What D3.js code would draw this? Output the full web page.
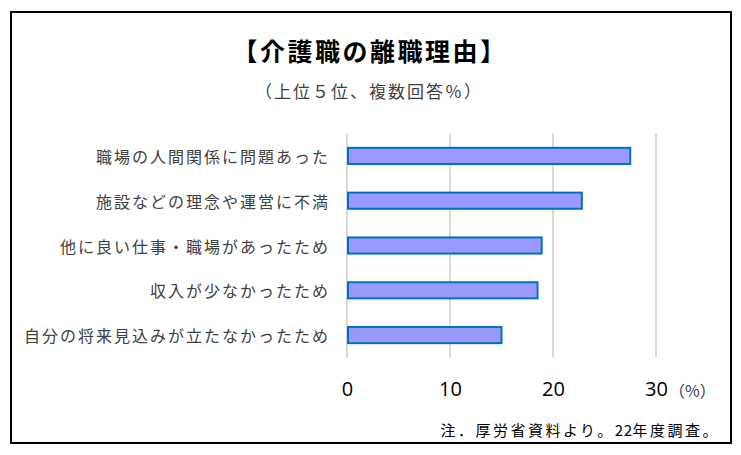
<!DOCTYPE html>
<html><head><meta charset="utf-8">
<script src="https://cdn.jsdelivr.net/npm/d3@7/dist/d3.min.js"></script>
<style>body{margin:0;background:#fff}</style>
</head><body><svg id="c" width="741" height="455"></svg>
<script>
const categories = ["職場の人間関係に問題あった","施設などの理念や運営に不満","他に良い仕事・職場があったため","収入が少なかったため","自分の将来見込みが立たなかったため"];
const values = [27.5, 22.8, 18.9, 18.5, 15.0];
const ticks = [0, 10, 20, 30];
const title = "【介護職の離職理由】";
const subtitle = "（上位５位、複数回答％）";
const noteParts = ["注．厚労省資料より。", "22", "年度調査。"];
const unit = "（%）";

const svg = d3.select("#c");
const jp = "'Noto Sans CJK JP', sans-serif";
svg.append("rect").attr("x",11).attr("y",12).attr("width",720).attr("height",431)
  .attr("fill","#fff").attr("stroke","#000").attr("stroke-width",2);

const x = d3.scaleLinear().domain([0,30]).range([347,656]);
const y = d3.scaleBand().domain(categories).range([133.5,357.5]).paddingInner(0.64).paddingOuter(0.32);

const g = svg.append("g");
g.selectAll("line.grid").data(ticks).join("line")
  .attr("x1",d=>x(d)).attr("x2",d=>x(d)).attr("y1",133.5).attr("y2",357.5)
  .attr("stroke","#d9d9d9").attr("stroke-width",2);

g.selectAll("rect.bar").data(values).join("rect")
  .attr("x",x(0)+1).attr("y",(d,i)=>y(categories[i]))
  .attr("width",d=>x(d)-x(0)-1).attr("height",y.bandwidth())
  .attr("fill","#9999ff").attr("stroke","#0070c0").attr("stroke-width",2);

const ax = d3.axisBottom(x).tickValues(ticks).tickSize(0).tickPadding(0);
const axg = svg.append("g").attr("transform","translate(0,388)").call(ax);
axg.select(".domain").remove();
axg.selectAll("text").attr("font-family","'Open Sans', Lato, sans-serif").attr("font-size",20)
  .attr("fill","#000").attr("dy",null).attr("dominant-baseline","central");

const ay = d3.axisLeft(y).tickSize(0).tickPadding(17);
const ayg = svg.append("g").attr("transform",`translate(${x(0)},0)`).call(ay);
ayg.select(".domain").remove();
ayg.selectAll("text").attr("font-family",jp).attr("font-size",16).attr("letter-spacing",2)
  .attr("fill","#404040").attr("dy",null).attr("dominant-baseline","central");

svg.append("text").attr("x",370).attr("y",50).attr("text-anchor","middle").attr("dominant-baseline","central")
  .attr("font-family",jp).attr("font-weight","bold").attr("font-size",25).attr("letter-spacing",2.5)
  .attr("fill","#000").text(title);
svg.append("text").attr("x",369).attr("y",90).attr("text-anchor","middle").attr("dominant-baseline","central")
  .attr("font-family",jp).attr("font-size",17).attr("letter-spacing",2).attr("fill","#404040").text(subtitle);
svg.append("text").attr("x",669).attr("y",390).attr("text-anchor","start").attr("dominant-baseline","central")
  .attr("font-family",jp).attr("font-size",16).attr("fill","#404040").text(unit);
const nt = svg.append("text").attr("x",720).attr("y",429).attr("text-anchor","end").attr("dominant-baseline","central")
  .attr("font-family",jp).attr("font-size",15).attr("fill","#000");
nt.selectAll("tspan").data(noteParts).join("tspan")
  .attr("letter-spacing",(d,i)=>i===1?0.5:2.5).text(d=>d);
</script></body></html>
